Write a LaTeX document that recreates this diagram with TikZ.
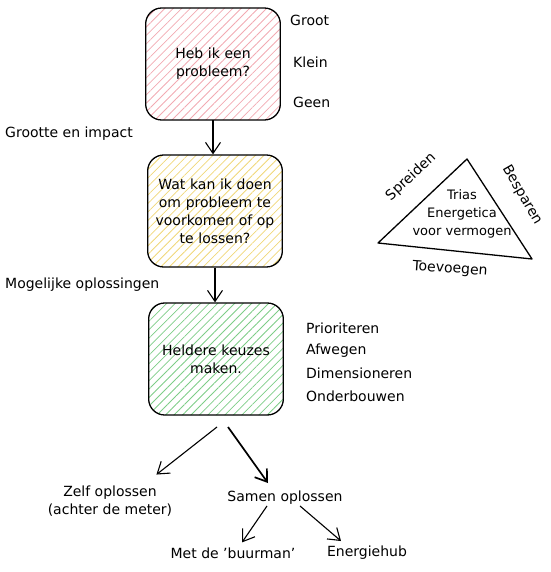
\documentclass[tikz,border=0pt]{standalone}
\usepackage{fontspec}
\setmainfont{DejaVu Sans}
\usepackage{tikz}
\usetikzlibrary{arrows.meta,patterns.meta}
\definecolor{hatch-red}{RGB}{242,170,178}
\definecolor{hatch-yellow}{RGB}{240,215,120}
\definecolor{hatch-green}{RGB}{125,205,135}
\tikzset{
    sketch-box/.style = {draw=black, line width=1.3pt, rectangle, rounded corners=16pt, align=center, minimum width=133pt, minimum height=112pt, text width=128pt, font=\fontsize{14}{18}\selectfont},
    hatch/.style = {pattern={Lines[angle=45,distance=6pt,line width=0.8pt]}, pattern color=#1},
    plain-label/.style = {font=\fontsize{14}{18}\selectfont, align=center, inner sep=1pt},
    sketch-arrow/.style = {draw=black, line width=1.1pt, -{Straight Barb[length=11pt,width=15pt]}},
}

\begin{document}
\begin{tikzpicture}[x=1pt, y=-1pt]
\useasboundingbox (0,0) rectangle (550,572);

% hoofdlijn
\node [sketch-box, hatch=hatch-red] (probleem) at (213,64) {Heb ik een\\probleem?};
\node [sketch-box, hatch=hatch-yellow] (voorkomen) at (215,211) {Wat kan ik doen\\om probleem te\\voorkomen of op\\te lossen?};
\node [sketch-box, hatch=hatch-green] (keuzes) at (216,359) {Heldere keuzes\\maken.};

\draw [sketch-arrow] (probleem.south) -- (probleem.south |- voorkomen.north);
\draw [sketch-arrow] (voorkomen.south) -- (voorkomen.south |- keuzes.north);

\node [plain-label, anchor=west] (groot) at (289,20) {Groot};
\node [plain-label, anchor=west] (klein) at (292,62) {Klein};
\node [plain-label, anchor=west] (geen) at (292,102) {Geen};
\node [plain-label, anchor=west] (impact) at (4,134) {Grootte en impact};
\node [plain-label, anchor=west] (mogelijk) at (4,285) {Mogelijke oplossingen};

\node [plain-label, anchor=west] (prio) at (305,328) {Prioriteren};
\node [plain-label, anchor=west] (afwegen) at (305,351) {Afwegen};
\node [plain-label, anchor=west] (dimensie) at (305,373) {Dimensioneren};
\node [plain-label, anchor=west] (onderbouw) at (305,396) {Onderbouwen};

% trias
\coordinate (tri-left) at (378,243);
\coordinate (tri-top) at (467,159);
\coordinate (tri-right) at (532,259);
\draw [line width=1.3pt, line join=round] (tri-left) -- (tri-top) -- (tri-right) -- cycle;
\node [plain-label, font=\fontsize{13}{18}\selectfont] (trias) at (462,214) {Trias\\Energetica\\voor vermogen};
\node [plain-label, rotate=43] (spreiden) at (411,177) {Spreiden};
\node [plain-label, rotate=-60] (besparen) at (522,195) {Besparen};
\node [plain-label, rotate=-4] (toevoegen) at (450,269) {Toevoegen};

% oplossingen
\coordinate (split-left) at (217,427);
\coordinate (split-right) at (228,427);
\node [plain-label] (zelf) at (110,501) {Zelf oplossen\\(achter de meter)};
\node [plain-label] (samen) at (285,498) {Samen oplossen};
\node [plain-label] (buurman) at (233,553) {Met de 'buurman'};
\node [plain-label] (energiehub) at (367,553) {Energiehub};

\draw [sketch-arrow] (split-left) -- ([xshift=-17pt,yshift=10pt]zelf.north east);
\draw [sketch-arrow, line width=1.7pt] (split-right) -- ([xshift=-17pt,yshift=7pt]samen.north);
\draw [sketch-arrow] ([xshift=-18pt]samen.south) -- ([xshift=9pt,yshift=4pt]buurman.north);
\draw [sketch-arrow] ([xshift=15pt]samen.south) -- ([xshift=-26pt,yshift=4pt]energiehub.north);
\end{tikzpicture}
\end{document}
